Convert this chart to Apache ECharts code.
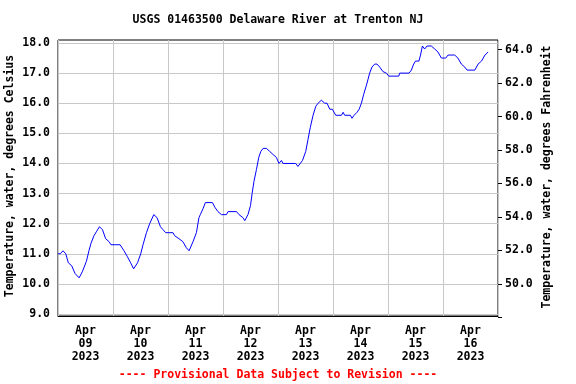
<!DOCTYPE html>
<html>
<head>
<meta charset="utf-8">
<script src="https://cdn.jsdelivr.net/npm/echarts@6/dist/echarts.min.js"></script>
<style>
html,body{margin:0;padding:0;background:#fff;}
#chart{width:576px;height:384px;}
</style>
</head>
<body>
<div id="chart"></div>
<script>
// Title and notes
const titleText = 'USGS 01463500 Delaware River at Trenton NJ';
const noteText = '---- Provisional Data Subject to Revision ----';
const leftName = 'Temperature, water, degrees Celsius';
const rightName = 'Temperature, water, degrees Fahrenheit';

// Day categories (x-axis labels, centred on each day)
const dayCategories = ['Apr\n09\n2023','Apr\n10\n2023','Apr\n11\n2023','Apr\n12\n2023',
                       'Apr\n13\n2023','Apr\n14\n2023','Apr\n15\n2023','Apr\n16\n2023'];

// Axis ranges / tick settings
const celsiusMin = 9, celsiusMax = 18, celsiusStep = 1;
const fahrMin = 48, fahrMax = 64, fahrStep = 2;
const hoursMin = 0, hoursMax = 192;

// Series: hours since Apr 09 2023 00:00, water temperature (deg C)
const hours = [0,1.0,2.2,3.4,4.5,6.0,7.4,9.2,10.6,12.4,13.5,14.4,15.7,16.9,18.1,19.4,20.8,22.3,23.1,
  27.1,28.8,30.3,31.7,33.0,34.7,36.1,37.1,38.6,40.0,41.8,43.2,44.7,45.8,47.0,50.2,50.9,52.8,54.5,56.0,57.2,
  58.9,60.4,61.5,62.1,63.3,64.3,67.4,68.4,69.8,71.3,73.5,74.2,77.9,79.0,80.7,81.5,82.9,84.0,84.7,85.5,86.6,
  87.6,88.5,89.5,90.9,92.4,93.8,95.3,96.4,97.5,98.2,103.7,104.7,105.5,106.7,108.1,109.1,110.1,111.3,112.5,
  113.5,114.9,116.4,117.4,118.6,119.7,121.2,123.7,124.4,125.1,127.6,128.3,129.2,130.5,131.4,132.4,133.4,
  134.6,135.3,136.0,137.0,138.2,139.2,140.4,141.8,143.3,144.3,148.7,149.1,153.2,154.2,155.2,156.0,157.5,
  158.2,159.0,160.0,161.0,162.9,164.4,165.8,167.3,169.2,170.2,173.1,174.5,176.0,177.5,178.5,181.9,183.3,
  184.8,186.3,187.7];
const tempC = [11.0,11.0,11.1,11.0,10.7,10.6,10.35,10.2,10.4,10.75,11.1,11.35,11.6,11.75,11.9,11.8,11.5,11.4,11.3,
  11.3,11.1,10.9,10.7,10.5,10.7,11.0,11.3,11.7,12.0,12.3,12.2,11.9,11.8,11.7,11.7,11.6,11.5,11.4,11.2,11.1,
  11.4,11.7,12.2,12.3,12.5,12.7,12.7,12.55,12.4,12.3,12.3,12.4,12.4,12.3,12.2,12.1,12.3,12.6,13.0,13.4,13.8,
  14.2,14.4,14.5,14.5,14.4,14.3,14.2,14.0,14.1,14.0,14.0,13.9,13.9,14.1,14.4,14.8,15.2,15.6,15.9,
  16.0,16.1,16.0,16.0,15.8,15.8,15.6,15.6,15.7,15.6,15.6,15.5,15.6,15.7,15.8,16.0,16.3,
  16.6,16.8,17.0,17.2,17.3,17.3,17.2,17.05,17.0,16.9,16.9,17.0,17.0,17.1,17.3,17.4,17.4,
  17.6,17.9,17.8,17.9,17.9,17.8,17.7,17.5,17.5,17.6,17.6,17.5,17.3,17.2,17.1,17.1,17.3,
  17.4,17.6,17.7];

const seriesData = hours.map((h, i) => [h, tempC[i]]);

const FONT = 'DejaVu Sans Mono';
const FS = 11.5;
const baseText = {fontFamily: FONT, fontWeight: 'bold', fontSize: FS, color: '#000'};
const gfont = 'bold 11.5px "DejaVu Sans Mono"';

const chart = echarts.init(document.getElementById('chart'), null, {renderer: 'canvas'});
chart.setOption({
  animation: false,
  backgroundColor: '#fff',
  grid: [
    {left: 58, right: 78, top: 40, bottom: 68, show: true, borderColor: '#000', borderWidth: 1, backgroundColor: 'transparent', containLabel: false},
    {left: 58, right: 78, top: 43, bottom: 70, containLabel: false},
    {left: 58, right: 78, top: 49.7, bottom: 66.7, containLabel: false}
  ],
  xAxis: [
    {type: 'category', gridIndex: 0, data: dayCategories, boundaryGap: true,
     axisLine: {show: true, onZero: false, lineStyle: {color: '#000', width: 1}},
     axisTick: {show: false},
     splitLine: {show: true, lineStyle: {color: '#c8c8c8', width: 1}},
     axisLabel: Object.assign({margin: 9, lineHeight: 12.8, interval: 0}, baseText)},
    {type: 'value', gridIndex: 1, min: hoursMin, max: hoursMax, show: false, axisLine: {onZero: false}},
    {type: 'value', gridIndex: 2, min: hoursMin, max: hoursMax, show: false, axisLine: {onZero: false}}
  ],
  yAxis: [
    {type: 'value', gridIndex: 0, min: 0, max: 1, show: false, axisLine: {onZero: false}},
    {type: 'value', gridIndex: 1, position: 'left', min: celsiusMin, max: celsiusMax, interval: celsiusStep,
     axisLine: {show: false, onZero: false}, axisTick: {show: false},
     splitLine: {show: true, lineStyle: {color: '#c8c8c8', width: 1}},
     axisLabel: Object.assign({margin: 8, formatter: v => v.toFixed(1)}, baseText)},
    {type: 'value', gridIndex: 2, position: 'right', min: fahrMin, max: fahrMax, interval: fahrStep,
     axisLine: {show: false, onZero: false},
     axisTick: {show: true, inside: false, length: 4, lineStyle: {color: '#000', width: 1}},
     splitLine: {show: false},
     axisLabel: Object.assign({margin: 7, formatter: v => (v <= fahrMin ? '' : v.toFixed(1))}, baseText)}
  ],
  series: [{
    type: 'line', xAxisIndex: 1, yAxisIndex: 1, data: seriesData,
    showSymbol: false, symbol: 'none', smooth: false,
    lineStyle: {color: '#0000ff', width: 1},
    z: 5
  }],
  graphic: [
    {type: 'text', x: 278, y: 20, style: {text: titleText, textAlign: 'center', textVerticalAlign: 'middle', font: gfont, fill: '#000'}},
    {type: 'text', x: 278, y: 375, style: {text: noteText, textAlign: 'center', textVerticalAlign: 'middle', font: gfont, fill: '#ff0000'}},
    {type: 'text', x: 10, y: 176, rotation: Math.PI / 2, style: {text: leftName, textAlign: 'center', textVerticalAlign: 'middle', font: gfont, fill: '#000'}},
    {type: 'text', x: 547, y: 177, rotation: Math.PI / 2, style: {text: rightName, textAlign: 'center', textVerticalAlign: 'middle', font: gfont, fill: '#000'}}
  ]
});
</script>
</body>
</html>
